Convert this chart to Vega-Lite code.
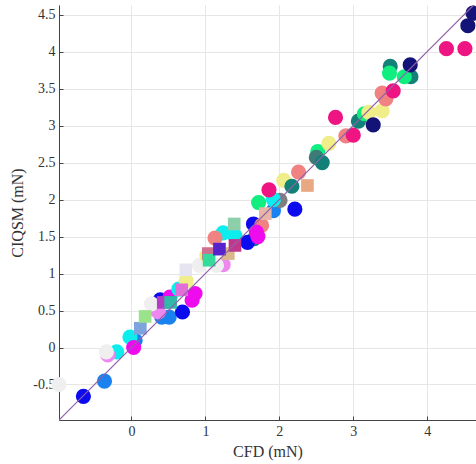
{
  "$schema": "https://vega.github.io/schema/vega-lite/v6.json",
  "width": 417,
  "height": 415,
  "autosize": {"type": "none"},
  "padding": {"left": 59, "top": 5, "right": 0, "bottom": 44},
  "background": "white",
  "config": {
    "view": {"stroke": null},
    "font": "Liberation Serif",
    "axis": {
      "labelFont": "Liberation Serif",
      "titleFont": "Liberation Serif",
      "labelFontSize": 14,
      "titleFontSize": 16,
      "titleFontWeight": "normal",
      "labelColor": "#333333",
      "titleColor": "#333333",
      "domainColor": "#444444",
      "tickColor": "#444444",
      "gridColor": "#e6e6e6",
      "tickSize": -4,
      "labelPadding": 8
    }
  },
  "datasets": {
    "pts": [
      {"cfd": -0.98, "ciqsm": -0.50, "group": "whitesmoke", "kind": "sphere"},
      {"cfd": -0.65, "ciqsm": -0.66, "group": "blue", "kind": "sphere"},
      {"cfd": -0.365, "ciqsm": -0.455, "group": "dodgerblue", "kind": "sphere"},
      {"cfd": -0.20, "ciqsm": -0.06, "group": "cyan", "kind": "sphere"},
      {"cfd": -0.32, "ciqsm": -0.10, "group": "violet", "kind": "sphere"},
      {"cfd": -0.34, "ciqsm": -0.06, "group": "whitesmoke", "kind": "sphere"},
      {"cfd": 0.05, "ciqsm": 0.095, "group": "dodgerblue", "kind": "sphere"},
      {"cfd": -0.02, "ciqsm": 0.14, "group": "cyan", "kind": "sphere"},
      {"cfd": 0.03, "ciqsm": 0.0, "group": "magenta", "kind": "sphere"},
      {"cfd": 0.41, "ciqsm": 0.41, "group": "dodgerblue", "kind": "sphere"},
      {"cfd": 0.51, "ciqsm": 0.41, "group": "dodgerblue", "kind": "sphere"},
      {"cfd": 0.32, "ciqsm": 0.52, "group": "violet", "kind": "sphere"},
      {"cfd": 0.365, "ciqsm": 0.48, "group": "violet", "kind": "sphere"},
      {"cfd": 0.39, "ciqsm": 0.645, "group": "blue", "kind": "sphere"},
      {"cfd": 0.27, "ciqsm": 0.59, "group": "whitesmoke", "kind": "sphere"},
      {"cfd": 0.52, "ciqsm": 0.68, "group": "magenta", "kind": "sphere"},
      {"cfd": 0.64, "ciqsm": 0.79, "group": "cyan", "kind": "sphere"},
      {"cfd": 0.69, "ciqsm": 0.48, "group": "blue", "kind": "sphere"},
      {"cfd": 0.74, "ciqsm": 0.90, "group": "khaki", "kind": "sphere"},
      {"cfd": 0.82, "ciqsm": 0.64, "group": "magenta", "kind": "sphere"},
      {"cfd": 0.86, "ciqsm": 0.73, "group": "magenta", "kind": "sphere"},
      {"cfd": 0.92, "ciqsm": 1.11, "group": "whitesmoke", "kind": "sphere"},
      {"cfd": 1.02, "ciqsm": 1.24, "group": "khaki", "kind": "sphere"},
      {"cfd": 1.24, "ciqsm": 1.12, "group": "violet", "kind": "sphere"},
      {"cfd": 1.15, "ciqsm": 1.11, "group": "whitesmoke", "kind": "sphere"},
      {"cfd": 1.24, "ciqsm": 1.55, "group": "cyan", "kind": "sphere"},
      {"cfd": 1.13, "ciqsm": 1.48, "group": "salmon", "kind": "sphere"},
      {"cfd": 1.40, "ciqsm": 1.51, "group": "cyan", "kind": "sphere"},
      {"cfd": 1.66, "ciqsm": 1.47, "group": "teal", "kind": "sphere"},
      {"cfd": 1.57, "ciqsm": 1.42, "group": "blue", "kind": "sphere"},
      {"cfd": 1.65, "ciqsm": 1.67, "group": "blue", "kind": "sphere"},
      {"cfd": 1.76, "ciqsm": 1.65, "group": "salmon", "kind": "sphere"},
      {"cfd": 1.69, "ciqsm": 1.56, "group": "magenta", "kind": "sphere"},
      {"cfd": 1.71, "ciqsm": 1.50, "group": "magenta", "kind": "sphere"},
      {"cfd": 1.92, "ciqsm": 1.85, "group": "dodgerblue", "kind": "sphere"},
      {"cfd": 2.01, "ciqsm": 1.99, "group": "gray", "kind": "sphere"},
      {"cfd": 1.92, "ciqsm": 2.00, "group": "cyan", "kind": "sphere"},
      {"cfd": 1.72, "ciqsm": 1.96, "group": "springgreen", "kind": "sphere"},
      {"cfd": 1.86, "ciqsm": 2.13, "group": "deeppink", "kind": "sphere"},
      {"cfd": 2.21, "ciqsm": 1.87, "group": "blue", "kind": "sphere"},
      {"cfd": 2.06, "ciqsm": 2.26, "group": "khaki", "kind": "sphere"},
      {"cfd": 2.17, "ciqsm": 2.18, "group": "teal", "kind": "sphere"},
      {"cfd": 2.26, "ciqsm": 2.37, "group": "salmon", "kind": "sphere"},
      {"cfd": 2.52, "ciqsm": 2.65, "group": "springgreen", "kind": "sphere"},
      {"cfd": 2.50, "ciqsm": 2.57, "group": "cadet", "kind": "sphere"},
      {"cfd": 2.58, "ciqsm": 2.50, "group": "teal", "kind": "sphere"},
      {"cfd": 2.67, "ciqsm": 2.76, "group": "khaki", "kind": "sphere"},
      {"cfd": 2.76, "ciqsm": 3.11, "group": "deeppink", "kind": "sphere"},
      {"cfd": 2.90, "ciqsm": 2.86, "group": "salmon", "kind": "sphere"},
      {"cfd": 3.00, "ciqsm": 2.87, "group": "deeppink", "kind": "sphere"},
      {"cfd": 3.07, "ciqsm": 3.06, "group": "teal", "kind": "sphere"},
      {"cfd": 3.15, "ciqsm": 3.16, "group": "springgreen", "kind": "sphere"},
      {"cfd": 3.21, "ciqsm": 3.18, "group": "khaki", "kind": "sphere"},
      {"cfd": 3.27, "ciqsm": 3.01, "group": "navy", "kind": "sphere"},
      {"cfd": 3.39, "ciqsm": 3.20, "group": "khaki", "kind": "sphere"},
      {"cfd": 3.39, "ciqsm": 3.44, "group": "salmon", "kind": "sphere"},
      {"cfd": 3.44, "ciqsm": 3.36, "group": "salmon", "kind": "sphere"},
      {"cfd": 3.54, "ciqsm": 3.47, "group": "deeppink", "kind": "sphere"},
      {"cfd": 3.50, "ciqsm": 3.80, "group": "teal", "kind": "sphere"},
      {"cfd": 3.49, "ciqsm": 3.71, "group": "springgreen", "kind": "sphere"},
      {"cfd": 3.78, "ciqsm": 3.66, "group": "teal", "kind": "sphere"},
      {"cfd": 3.69, "ciqsm": 3.66, "group": "springgreen", "kind": "sphere"},
      {"cfd": 3.77, "ciqsm": 3.82, "group": "navy", "kind": "sphere"},
      {"cfd": 4.26, "ciqsm": 4.04, "group": "deeppink", "kind": "sphere"},
      {"cfd": 4.51, "ciqsm": 4.04, "group": "deeppink", "kind": "sphere"},
      {"cfd": 4.55, "ciqsm": 4.35, "group": "navy", "kind": "sphere"},
      {"cfd": 4.62, "ciqsm": 4.52, "group": "navy", "kind": "sphere"},
      {"cfd": 0.12, "ciqsm": 0.26, "group": "cornflower", "kind": "cube"},
      {"cfd": 0.185, "ciqsm": 0.42, "group": "lightgreen", "kind": "cube"},
      {"cfd": 0.43, "ciqsm": 0.61, "group": "darkorchid", "kind": "cube"},
      {"cfd": 0.53, "ciqsm": 0.61, "group": "lightseagreen", "kind": "cube"},
      {"cfd": 0.68, "ciqsm": 0.78, "group": "orchid", "kind": "cube"},
      {"cfd": 0.735, "ciqsm": 1.05, "group": "lavender", "kind": "cube"},
      {"cfd": 1.04, "ciqsm": 1.27, "group": "palevioletred", "kind": "cube"},
      {"cfd": 1.05, "ciqsm": 1.18, "group": "seagreen", "kind": "cube"},
      {"cfd": 1.31, "ciqsm": 1.27, "group": "tan", "kind": "cube"},
      {"cfd": 1.19, "ciqsm": 1.33, "group": "slateblue", "kind": "cube"},
      {"cfd": 1.40, "ciqsm": 1.38, "group": "violetred", "kind": "cube"},
      {"cfd": 1.39, "ciqsm": 1.67, "group": "aquamarine", "kind": "cube"},
      {"cfd": 1.81, "ciqsm": 1.81, "group": "peach", "kind": "cube"},
      {"cfd": 2.38, "ciqsm": 2.19, "group": "darksalmon", "kind": "cube"}
    ],
    "diag": [
      {"cfd": -0.98, "ciqsm": -0.98},
      {"cfd": 4.7, "ciqsm": 4.7}
    ]
  },
  "layer": [
    {
      "data": {"name": "pts"},
      "mark": {"type": "point", "filled": true, "opacity": 1, "strokeWidth": 0},
      "encoding": {
        "x": {
          "field": "cfd", "type": "quantitative",
          "scale": {"domain": [-0.98, 4.66], "nice": false, "zero": false},
          "axis": {
            "title": "CFD (mN)",
            "values": [0, 1, 2, 3, 4],
            "format": ".1~f",
            "labelExpr": "replace(datum.label, '\u2212', '-')",
            "titlePadding": 5
          }
        },
        "y": {
          "field": "ciqsm", "type": "quantitative",
          "scale": {"domain": [-0.98, 4.63], "nice": false, "zero": false},
          "axis": {
            "title": "CIQSM (mN)",
            "values": [-0.5, 0, 0.5, 1, 1.5, 2, 2.5, 3, 3.5, 4, 4.5],
            "format": ".1~f",
            "labelExpr": "replace(datum.label, '\u2212', '-')",
            "titlePadding": 7
          }
        },
        "shape": {
          "field": "kind", "type": "nominal",
          "scale": {"domain": ["sphere", "cube"], "range": ["circle", "square"]},
          "legend": null
        },
        "size": {
          "field": "kind", "type": "nominal",
          "scale": {"domain": ["sphere", "cube"], "range": [230, 160]},
          "legend": null
        },
        "color": {
          "field": "group", "type": "nominal",
          "scale": {
            "domain": ["whitesmoke", "blue", "dodgerblue", "cyan", "violet", "magenta", "khaki", "salmon", "teal", "gray", "springgreen", "deeppink", "cadet", "navy", "cornflower", "lightgreen", "darkorchid", "lightseagreen", "orchid", "lavender", "palevioletred", "seagreen", "tan", "slateblue", "violetred", "aquamarine", "peach", "darksalmon"],
            "range": ["#efefef", "#0b0bee", "#1a82ee", "#0ceeee", "#ee88ee", "#ee0cee", "#f0ee88", "#f08282", "#138177", "#7f7f7f", "#10ee80", "#ee1482", "#3d7a78", "#141478", "#7ea4de", "#9be38a", "#b43cc4", "#30b8a8", "#e070d8", "#e6e4f0", "#d07090", "#33dc9a", "#d9b88c", "#5522cc", "#c0388c", "#8ccfa8", "#e8b6a6", "#e8a882"]
          },
          "legend": null
        }
      }
    },
    {
      "data": {"name": "diag"},
      "mark": {"type": "line", "color": "#9060a8", "strokeWidth": 1.2, "clip": true},
      "encoding": {
        "x": {"field": "cfd", "type": "quantitative"},
        "y": {"field": "ciqsm", "type": "quantitative"}
      }
    }
  ]
}
